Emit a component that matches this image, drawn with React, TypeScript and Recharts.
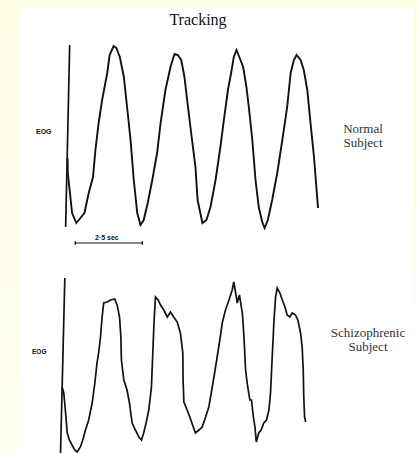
import { LineChart, Line, XAxis, YAxis, ReferenceLine } from 'recharts';

// time in seconds from the EOG axis, EOG in arbitrary units
const normalTime = [
  -0.07, -0.06, 0.1, 0.26, 0.41, 0.56, 0.72, 0.88, 0.97, 1.09, 1.22, 1.41, 1.5, 1.65, 1.75, 1.88,
  2.03, 2.15, 2.28, 2.4, 2.53, 2.65, 2.77, 2.92, 3.09, 3.27, 3.4, 3.58, 3.77, 3.92, 4.04, 4.17,
  4.29, 4.39, 4.54, 4.7, 4.78, 4.96, 5.11, 5.26, 5.45, 5.63, 5.76, 5.91, 6.03, 6.13, 6.23, 6.35,
  6.48, 6.6, 6.69, 6.82, 6.94, 7.06, 7.19, 7.28, 7.4, 7.56, 7.75, 7.94, 8.12, 8.25, 8.37, 8.47,
  8.62, 8.74, 8.87, 8.99, 9.12, 9.27,
];
const normalEog = [
  70, 55, 15, 5, 10, 15, 35, 51, 78, 105, 128, 155, 173, 182, 180, 171,
  151, 121, 88, 48, 15, 3, 8, 25, 48, 75, 105, 138, 161, 174, 173, 168,
  151, 128, 95, 61, 28, 5, 8, 21, 48, 81, 108, 138, 155, 171, 178, 170,
  161, 141, 121, 88, 48, 21, 6, 0, 8, 28, 55, 88, 121, 155, 168, 173,
  168, 158, 138, 105, 71, 20,
];

const schizoTime = [
  -0.01, 0.05, 0.11, 0.18, 0.26, 0.36, 0.46, 0.55, 0.67, 0.76, 0.86, 0.98, 1.11, 1.21, 1.29, 1.35,
  1.42, 1.48, 1.54, 1.67, 1.79, 1.95, 2.04, 2.13, 2.18, 2.2, 2.29, 2.41, 2.5, 2.6, 2.72, 2.85,
  2.95, 3.03, 3.12, 3.22, 3.32, 3.37, 3.42, 3.47, 3.57, 3.66, 3.78, 3.91, 4.03, 4.15, 4.28, 4.4,
  4.49, 4.5, 4.53, 4.65, 4.75, 4.88, 4.96, 5.09, 5.21, 5.34, 5.46, 5.55, 5.65, 5.77, 5.87, 5.96,
  6.08, 6.21, 6.33, 6.39, 6.46, 6.52, 6.6, 6.71, 6.77, 6.83, 6.91, 6.99, 7.05, 7.12, 7.18, 7.23,
  7.32, 7.41, 7.51, 7.61, 7.7, 7.76, 7.83, 7.89, 7.95, 8.01, 8.11, 8.2, 8.3, 8.38, 8.48, 8.57,
  8.69, 8.78, 8.88, 8.94, 8.98, 9.0, 9.03, 9.07,
];
const schizoEog = [
  66, 60, 43, 20, 13, 8, 3, 1, 6, 13, 23, 33, 50, 70, 90, 100,
  116, 136, 150, 151, 153, 154, 148, 136, 116, 93, 73, 63, 50, 30, 23, 16,
  13, 20, 30, 43, 66, 100, 133, 156, 153, 148, 143, 136, 141, 136, 131, 120,
  100, 73, 51, 43, 36, 26, 20, 23, 26, 36, 46, 60, 76, 96, 113, 130,
  143, 153, 163, 171, 160, 150, 158, 140, 116, 83, 66, 53, 53, 36, 26, 11,
  20, 23, 30, 33, 43, 60, 100, 133, 156, 165, 160, 153, 146, 138, 136, 140,
  138, 133, 120, 106, 83, 56, 36, 31,
];

const normalData = normalTime.map((t, i) => ({ t, eog: normalEog[i] }));
const schizoData = schizoTime.map((t, i) => ({ t, eog: schizoEog[i] }));

const scaleBar = [0.22, 2.72]; // 2.5 sec

const ink = '#111';

export default function App() {
  return (
    <div
      style={{
        position: 'relative',
        width: 417,
        height: 453,
        background: 'linear-gradient(#fffde4, #fffff4)',
        overflow: 'hidden',
      }}
    >
      <style>{'body{margin:0}'}</style>
      <div style={{ position: 'absolute', left: 20, top: 8, width: 394, height: 445, background: '#fff' }} />

      <div style={{ position: 'absolute', left: 45.6, top: 34 }}>
        <LineChart width={315} height={220} data={normalData} margin={{ top: 10, right: 10, bottom: 26, left: 10 }}>
          <XAxis type="number" dataKey="t" domain={[-0.5, 10.5]} hide />
          <YAxis type="number" domain={[0, 184]} hide />
          <ReferenceLine segment={[{ x: 0.01, y: 183 }, { x: -0.14, y: 1 }]} stroke={ink} strokeWidth={1.7} />
          <ReferenceLine segment={[{ x: scaleBar[0], y: -15 }, { x: scaleBar[1], y: -15 }]} stroke={ink} strokeWidth={1.2} ifOverflow="visible" />
          <ReferenceLine segment={[{ x: scaleBar[0], y: -13.3 }, { x: scaleBar[0], y: -16.7 }]} stroke={ink} strokeWidth={1.4} ifOverflow="visible" />
          <ReferenceLine segment={[{ x: scaleBar[1], y: -13.3 }, { x: scaleBar[1], y: -16.7 }]} stroke={ink} strokeWidth={1.4} ifOverflow="visible" />
          <Line type="linear" dataKey="eog" stroke={ink} strokeWidth={1.9} dot={false} isAnimationActive={false} />
        </LineChart>
      </div>

      <div style={{ position: 'absolute', left: 38.6, top: 267 }}>
        <LineChart width={315} height={196} data={schizoData} margin={{ top: 10, right: 10, bottom: 10, left: 10 }}>
          <XAxis type="number" dataKey="t" domain={[-0.5, 10.5]} hide />
          <YAxis type="number" domain={[0, 176]} hide />
          <ReferenceLine segment={[{ x: 0.09, y: 175 }, { x: -0.07, y: 0 }]} stroke={ink} strokeWidth={1.7} />
          <Line type="linear" dataKey="eog" stroke={ink} strokeWidth={1.7} dot={false} isAnimationActive={false} />
        </LineChart>
      </div>

      <svg width={417} height={453} style={{ position: 'absolute', left: 0, top: 0, pointerEvents: 'none' }}>
        <text x={198} y={25} textAnchor="middle" fontFamily="Liberation Serif" fontSize={16} fill={ink}>Tracking</text>
        <text x={36} y={134} fontFamily="Liberation Sans" fontWeight="bold" fontSize={7} fill={ink}>EOG</text>
        <text x={363} y={133} textAnchor="middle" fontFamily="Liberation Serif" fontSize={13} fill="#333">Normal</text>
        <text x={363} y={147} textAnchor="middle" fontFamily="Liberation Serif" fontSize={13} fill="#333">Subject</text>
        <text x={95} y={240} fontFamily="Liberation Sans" fontWeight="bold" fontSize={7} fill={ink}>2·5 sec</text>
        <text x={32} y={354} fontFamily="Liberation Sans" fontWeight="bold" fontSize={6.5} fill={ink}>EOG</text>
        <text x={368} y={337} textAnchor="middle" fontFamily="Liberation Serif" fontSize={13} fill="#333">Schizophrenic</text>
        <text x={368} y={351} textAnchor="middle" fontFamily="Liberation Serif" fontSize={13} fill="#333">Subject</text>
      </svg>
    </div>
  );
}
